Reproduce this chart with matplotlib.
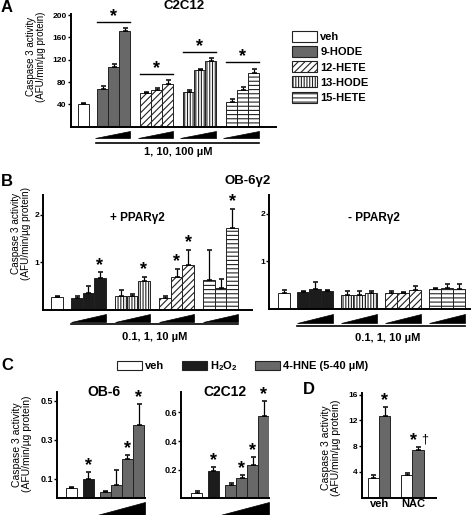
import numpy as np
import matplotlib
matplotlib.use('Agg')
import matplotlib.pyplot as plt
from matplotlib.patches import Patch, Polygon
from matplotlib.transforms import blended_transform_factory

plt.rcParams['font.family'] = ['Liberation Sans', 'DejaVu Sans']
plt.rcParams['font.weight'] = 'bold'
plt.rcParams['mathtext.fontset'] = 'custom'
plt.rcParams['mathtext.rm'] = 'Liberation Sans:bold'
plt.rcParams['mathtext.it'] = 'Liberation Sans:bold'
plt.rcParams['mathtext.bf'] = 'Liberation Sans:bold'
plt.rcParams['hatch.linewidth'] = 0.8
plt.rcParams['hatch.color'] = '#222222'

# ---- Datos ----
# Panel A (C2C12, 1, 10, 100 uM)
veh_a, veh_a_err = 40, 3
hode9_a = [67, 107, 171];   hode9_a_err = [6, 6, 6]
hete12_a = [59.5, 65.5, 76]; hete12_a_err = [2.5, 3, 7]
hode13_a = [63, 101, 117];  hode13_a_err = [2, 2, 6]
hete15_a = [43.5, 65.5, 97]; hete15_a_err = [6, 6, 6]
sig_a = [187, 94, 133, 115]

# Panel B (OB-6g2, + PPARg2)
veh_bp, veh_bp_err = 0.27, 0.02
hode9_bp = [0.245, 0.36, 0.68];  hode9_bp_err = [0.045, 0.14, 0.11]
hode13_bp = [0.29, 0.29, 0.61];  hode13_bp_err = [0.12, 0.05, 0.09]
hete12_bp = [0.245, 0.69, 0.94]; hete12_bp_err = [0.055, 0.18, 0.33]
hete15_bp = [0.63, 0.47, 1.73];  hete15_bp_err = [0.63, 0.19, 0.40]
star_bp = [[2], [2], [1, 2], [2]]

# Panel B (- PPARg2)
veh_bm, veh_bm_err = 0.33, 0.07
hode9_bm = [0.36, 0.42, 0.37];  hode9_bm_err = [0.02, 0.15, 0.03]
hode13_bm = [0.29, 0.29, 0.33]; hode13_bm_err = [0.08, 0.08, 0.05]
hete12_bm = [0.33, 0.34, 0.40]; hete12_bm_err = [0.04, 0.02, 0.08]
hete15_bm = [0.42, 0.44, 0.43]; hete15_bm_err = [0.02, 0.09, 0.09]

# Panel C
ob6_veh, ob6_veh_err = 0.054, 0.004
ob6_h2o2, ob6_h2o2_err = 0.098, 0.037
ob6_hne = [0.034, 0.068, 0.2, 0.376]; ob6_hne_err = [0.004, 0.077, 0.022, 0.106]
ob6_star_hne = [2, 3]
c2_veh, c2_veh_err = 0.035, 0.015
c2_h2o2, c2_h2o2_err = 0.188, 0.032
c2_hne = [0.09, 0.145, 0.233, 0.575]; c2_hne_err = [0.015, 0.02, 0.054, 0.105]
c2_star_hne = [1, 2, 3]

# Panel D
d_groups = ['veh', 'NAC']
d_veh = [3.1, 3.5];  d_veh_err = [0.4, 0.4]
d_hne = [12.7, 7.4]; d_hne_err = [1.4, 0.5]

GRAY = '#686868'
BLACK = '#1c1c1c'
EDGE = '#222222'

fig = plt.figure(figsize=(4.77, 5.15), dpi=100)


def style(ax, ylim, yticks):
    ax.spines[['top', 'right']].set_visible(False)
    ax.spines[['left', 'bottom']].set_linewidth(1.4)
    ax.set_ylim(*ylim)
    ax.set_xticks([])
    ax.set_yticks(yticks)
    ax.tick_params(axis='y', length=2, width=1, labelsize=6, pad=1)


def bars(ax, x, vals, errs, fc, hatch=None):
    x = np.atleast_1d(x)
    vals = np.atleast_1d(vals)
    errs = np.atleast_1d(errs)
    ax.bar(x, vals, width=1, color=fc, edgecolor=EDGE, linewidth=0.7, hatch=hatch, zorder=2)
    ax.errorbar(x, vals, yerr=[np.zeros(len(vals)), errs], fmt='none', ecolor='black',
                elinewidth=0.9, capsize=1.8, capthick=1.1, zorder=3)


def star(ax, x, y, dy=1.5, size=13):
    ax.annotate('*', (x, y), xytext=(0, dy), textcoords='offset points',
                ha='center', va='baseline', fontsize=size, annotation_clip=False)


def wedge(ax, x0, x1, y0, y1):
    tr = blended_transform_factory(ax.transData, ax.transAxes)
    ax.add_patch(Polygon([[x0, y0], [x1, y0], [x1, y1]], closed=True, facecolor='black',
                         edgecolor='black', linewidth=0.5, transform=tr, clip_on=False))


def hline(ax, x0, x1, y):
    tr = blended_transform_factory(ax.transData, ax.transAxes)
    ax.plot([x0, x1], [y, y], color='black', lw=1.2, transform=tr, clip_on=False)


def ylab(ax, x, y, size=7):
    ax.set_ylabel('Caspase 3 activity\n(AFU/min/µg protein)', fontsize=size, linespacing=1.0)
    ax.yaxis.set_label_coords(x, y)


def ftext(px, py, s, size, **kw):
    fig.text(px / 477, 1 - py / 515, s, ha='center', va='center', fontsize=size, **kw)


styles_a = [(GRAY, None), ('white', '/////'), ('white', '||||||'), ('white', '----')]

# ---------------- Panel A ----------------
axA = fig.add_axes([0.148, 0.754, 0.430, 0.219])
style(axA, (0, 202), [40, 80, 120, 160, 200])
axA.set_xlim(0, 18.7)
vx, g0, s = 1.16, 2.45, 3.91
bars(axA, vx, veh_a, veh_a_err, 'white')
data_a = [(hode9_a, hode9_a_err), (hete12_a, hete12_a_err), (hode13_a, hode13_a_err), (hete15_a, hete15_a_err)]
for i, ((v, e), (fc, h)) in enumerate(zip(data_a, styles_a)):
    xs = g0 + i * s + np.arange(3) + 0.5
    bars(axA, xs, v, e, fc, h)
    axA.plot([xs[0] - 0.5, xs[-1] + 0.5], [sig_a[i], sig_a[i]], color='black', lw=1.0, clip_on=False)
    star(axA, xs[1], sig_a[i], dy=1)
    wedge(axA, xs[0] - 0.75, xs[-1] + 0.5, -0.1, -0.038)
hline(axA, g0 - 0.1, g0 + 3 * s + 3, -0.142)
axA.text((g0 + g0 + 3 * s + 3) / 2, -0.225, '1, 10, 100 µM', transform=blended_transform_factory(axA.transData, axA.transAxes),
         ha='center', va='center', fontsize=8)
ftext(183.7, 6, 'C2C12', 9.5)
ylab(axA, -0.12, 0.62, 7)

fig.legend(handles=[Patch(facecolor='white', edgecolor=EDGE, lw=0.8, label='veh'),
                    Patch(facecolor=GRAY, edgecolor=EDGE, lw=0.8, label='9-HODE'),
                    Patch(facecolor='white', edgecolor=EDGE, lw=0.8, hatch='/////', label='12-HETE'),
                    Patch(facecolor='white', edgecolor=EDGE, lw=0.8, hatch='||||||', label='13-HODE'),
                    Patch(facecolor='white', edgecolor=EDGE, lw=0.8, hatch='----', label='15-HETE')],
           loc='upper left', bbox_to_anchor=(0.612, 0.94), frameon=False, fontsize=8,
           handlelength=2.25, handleheight=1.15, handletextpad=0.3, labelspacing=0.35,
           borderpad=0, borderaxespad=0)

# ---------------- Panel B ----------------
styles_b = [(BLACK, None), ('white', '||||||'), ('white', '/////'), ('white', '----')]

axBp = fig.add_axes([0.0908, 0.398, 0.437, 0.223])
style(axBp, (0, 2.41), [1, 2])
axBp.set_xlim(0, 18.1)
vx, g0, s = 1.19, 2.41, 3.83
bars(axBp, vx, veh_bp, veh_bp_err, 'white')
data_bp = [(hode9_bp, hode9_bp_err), (hode13_bp, hode13_bp_err), (hete12_bp, hete12_bp_err), (hete15_bp, hete15_bp_err)]
for i, ((v, e), (fc, h)) in enumerate(zip(data_bp, styles_b)):
    xs = g0 + i * s + np.arange(3) + 0.5
    bars(axBp, xs, v, e, fc, h)
    for j in star_bp[i]:
        star(axBp, xs[j], v[j] + e[j])
    wedge(axBp, xs[0] - 0.5, xs[-1] + 0.5, -0.104, -0.035)
hline(axBp, g0, g0 + 3 * s + 3, -0.122)
axBp.text((g0 + g0 + 3 * s + 3) / 2, -0.235, '0.1, 1, 10 µM', transform=blended_transform_factory(axBp.transData, axBp.transAxes),
          ha='center', va='center', fontsize=8)
axBp.text(0.45, 0.8, '+ PPARγ2', transform=axBp.transAxes, ha='center', va='center', fontsize=8.5)
ylab(axBp, -0.06, 0.67, 7.2)

axBm = fig.add_axes([0.5646, 0.400, 0.421, 0.221])
style(axBm, (0, 2.39), [1, 2])
axBm.set_xlim(0, 16.7)
vx, g0, s = 1.22, 2.28, 3.67
bars(axBm, vx, veh_bm, veh_bm_err, 'white')
data_bm = [(hode9_bm, hode9_bm_err), (hode13_bm, hode13_bm_err), (hete12_bm, hete12_bm_err), (hete15_bm, hete15_bm_err)]
for i, ((v, e), (fc, h)) in enumerate(zip(data_bm, styles_b)):
    xs = g0 + i * s + np.arange(3) + 0.5
    bars(axBm, xs, v, e, fc, h)
    wedge(axBm, xs[0] - 0.5, xs[-1] + 0.5, -0.124, -0.044)
hline(axBm, g0, g0 + 3 * s + 3, -0.15)
axBm.text((g0 + g0 + 3 * s + 3) / 2 + 0.6, -0.257, '0.1, 1, 10 µM', transform=blended_transform_factory(axBm.transData, axBm.transAxes),
          ha='center', va='center', fontsize=8)
axBm.text(0.52, 0.8, '- PPARγ2', transform=axBm.transAxes, ha='center', va='center', fontsize=8.5)

ftext(248, 181, 'OB-6γ2', 9.5)

# ---------------- Panel C ----------------
axC1 = fig.add_axes([0.120, 0.0324, 0.184, 0.206])
style(axC1, (0, 0.545), [0.1, 0.3, 0.5])
axC1.tick_params(axis='y', labelsize=6.5)
axC1.set_xlim(0, 7.97)
bars(axC1, 1.26, ob6_veh, ob6_veh_err, 'white')
bars(axC1, 2.8, ob6_h2o2, ob6_h2o2_err, BLACK)
star(axC1, 2.8, ob6_h2o2 + ob6_h2o2_err)
xs = 3.88 + np.arange(4) + 0.5
bars(axC1, xs, ob6_hne, ob6_hne_err, GRAY)
for j in ob6_star_hne:
    star(axC1, xs[j], ob6_hne[j] + ob6_hne_err[j])
wedge(axC1, 3.58, 7.97, -0.16, -0.035)
ftext(104, 392, 'OB-6', 10)
ylab(axC1, -0.29, 0.51, 7.5)

axC2 = fig.add_axes([0.3795, 0.0324, 0.1845, 0.207])
style(axC2, (0, 0.745), [0.2, 0.4, 0.6])
axC2.tick_params(axis='y', labelsize=6.5)
axC2.set_xlim(0, 8.0)
bars(axC2, 1.42, c2_veh, c2_veh_err, 'white')
bars(axC2, 2.95, c2_h2o2, c2_h2o2_err, BLACK)
star(axC2, 2.95, c2_h2o2 + c2_h2o2_err)
xs = 4.0 + np.arange(4) + 0.5
bars(axC2, xs, c2_hne, c2_hne_err, GRAY)
for j in c2_star_hne:
    star(axC2, xs[j], c2_hne[j] + c2_hne_err[j])
wedge(axC2, 3.55, 8.0, -0.16, -0.035)
ftext(225, 392, 'C2C12', 10)

fig.legend(handles=[Patch(facecolor='white', edgecolor=EDGE, lw=0.8, label='veh'),
                    Patch(facecolor=BLACK, edgecolor=EDGE, lw=0.8, label=r'H$_2$O$_2$'),
                    Patch(facecolor=GRAY, edgecolor=EDGE, lw=0.8, label='4-HNE (5-40 µM)')],
           loc='upper left', bbox_to_anchor=(0.246, 0.302), frameon=False, fontsize=8, ncol=3,
           handlelength=2.25, handleheight=0.9, handletextpad=0.25, columnspacing=1.6,
           borderpad=0, borderaxespad=0)

# ---------------- Panel D ----------------
axD = fig.add_axes([0.7583, 0.0334, 0.155, 0.203])
style(axD, (0, 16.2), [4, 8, 12, 16])
axD.set_xlim(0, 6.55)
xd = np.array([1.03, 3.98])
bars(axD, xd, d_veh, d_veh_err, 'white')
bars(axD, xd + 1, d_hne, d_hne_err, GRAY)
star(axD, xd[0] + 1, d_hne[0] + d_hne_err[0])
star(axD, xd[1] + 0.6, d_hne[1] + d_hne_err[1])
axD.annotate('†', (xd[1] + 1.6, d_hne[1] + d_hne_err[1]), xytext=(0, 1), textcoords='offset points',
             ha='center', va='bottom', fontsize=9, fontweight='normal')
axD.set_xticks(xd + 0.55)
axD.set_xticklabels(d_groups, fontsize=8)
axD.tick_params(axis='x', length=0, pad=1)
ylab(axD, -0.28, 0.48, 7.5)

# Etiquetas de panel
for lab, (px, py) in {'A': (7, 7), 'B': (7, 182), 'C': (7, 366), 'D': (309, 390)}.items():
    ftext(px, py, lab, 12, fontweight='bold')

fig.savefig('out.png', dpi=100)
